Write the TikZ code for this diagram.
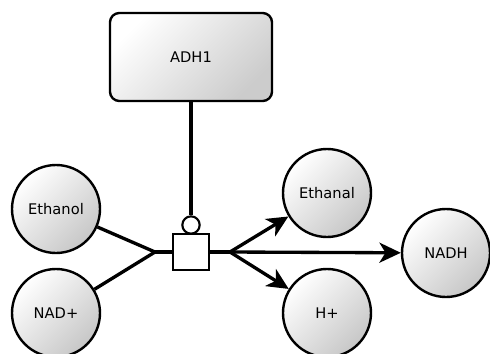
\documentclass[tikz,border=0pt]{standalone}
\usepackage{fontspec}
\setmainfont{DejaVu Sans}
\usetikzlibrary{arrows.meta}

\begin{document}
\begin{tikzpicture}[x=0.75pt, y=-0.75pt,
  every node/.style={font=\fontsize{11}{13}\selectfont},
  species/.style={circle, draw, line width=1.8pt, minimum size=66pt, inner sep=0pt,
    top color=white, bottom color=black!22, shading angle=45},
  enzyme/.style={rectangle, rounded corners=7pt, draw, line width=1.8pt,
    minimum width=121.5pt, minimum height=66pt, top color=white, bottom color=black!20, shading angle=45},
  process/.style={rectangle, draw, fill=white, line width=1.6pt, minimum size=27pt, inner sep=0pt},
  modulator/.style={circle, draw, fill=white, line width=1.6pt, minimum size=13pt, inner sep=0pt},
  link/.style={line width=2.5pt},
  product/.style={link, -{Stealth[length=16pt, width=15pt, inset=4.5pt]}}]
\useasboundingbox (0,0) rectangle (490,354);
% enzyme on top
\node[enzyme] (adh) at (191,57) {ADH1};
% process node and its modulation
\node[process] (proc) at (191,252) {};
\node[modulator] (mod) at (191,225) {};
% substrates and products
\node[species] (ethanol) at (56,209) {Ethanol};
\node[species] (nad) at (56,313) {NAD+};
\node[species] (ethanal) at (327,193) {Ethanal};
\node[species] (nadh) at (446,253) {NADH};
\node[species] (hplus) at (327,313) {H+};
\coordinate (inj) at (155,252);
\coordinate (outj) at (230,252);
\draw[link] (adh) -- (mod);
\draw[link] (ethanol) -- (inj);
\draw[link] (nad) -- (inj);
\draw[link] (inj) -- (proc.west);
\draw[link] (proc.east) -- (outj);
\draw[product] (outj) -- (ethanal);
\draw[product] (outj) -- (nadh);
\draw[product] (outj) -- (hplus);
\end{tikzpicture}
\end{document}
